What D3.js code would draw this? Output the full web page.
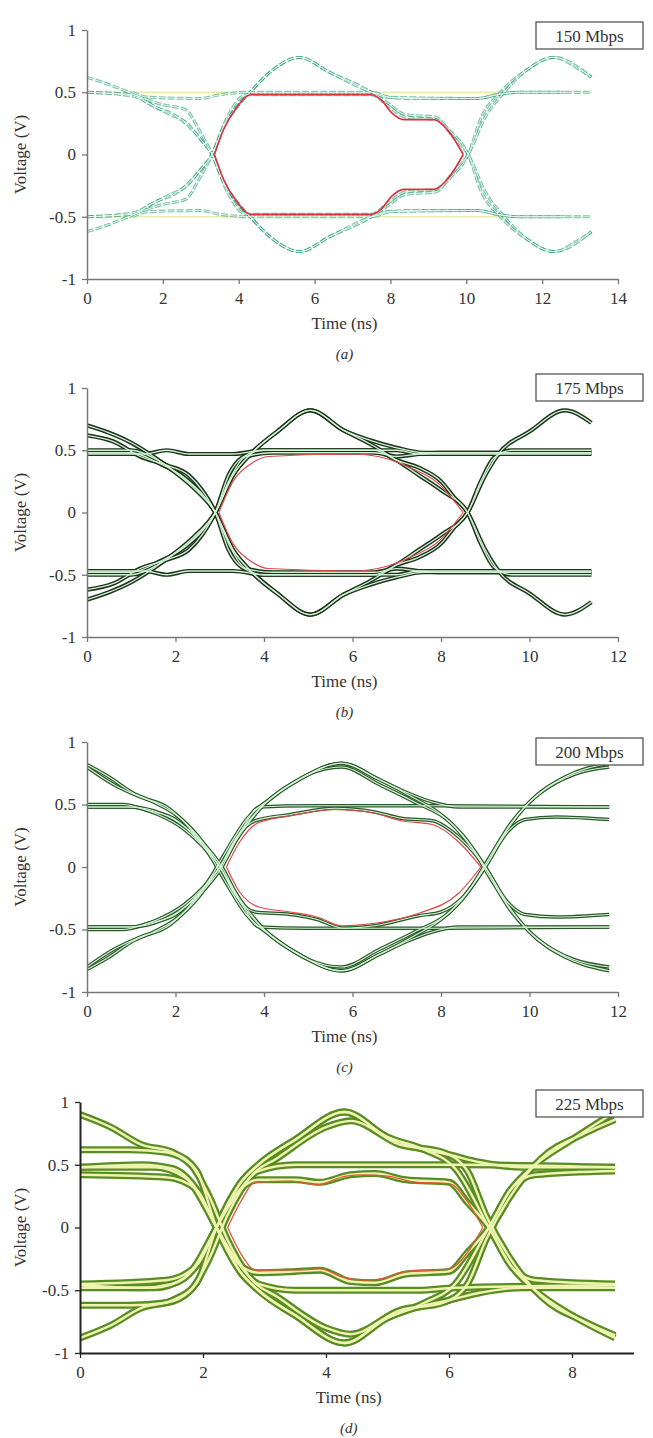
<!DOCTYPE html>
<html>
<head>
<meta charset="utf-8">
<script src="https://cdn.jsdelivr.net/npm/d3@7"></script>
<style>
  body { margin: 0; background: #fff; }
  svg text { font-family: "Liberation Serif", "Times New Roman", serif; fill: #333; }
</style>
</head>
<body>
<svg id="chart" width="653" height="1438"></svg>
<script>
/* global d3 */

// ---- data ----
const rates = ['150 Mbps', '175 Mbps', '200 Mbps', '225 Mbps'];
const captions = ['(a)', '(b)', '(c)', '(d)'];
const xMax = [14, 12, 12, 9];
const xTicksA = [0, 2, 4, 6, 8, 10, 12, 14];
const xTicksB = [0, 2, 4, 6, 8, 10, 12];
const xTicksC = [0, 2, 4, 6, 8, 10, 12];
const xTicksD = [0, 2, 4, 6, 8];
const yTicks = [-1, -0.5, 0, 0.5, 1];

// panel (a) 150 Mbps
const levelsA = [
  [[0, 0.5], [13.3, 0.5]],
  [[0, -0.5], [13.3, -0.5]]
];
const tracesA = [
  [[0, 0.62], [0.6, 0.56], [1.1, 0.5], [1.5, 0.45], [2.0, 0.4], [2.6, 0.36], [2.95, 0.2], [3.3, 0], [3.6, -0.22], [4.0, -0.4], [4.3, -0.5], [4.9, -0.68], [5.6, -0.78], [6.4, -0.66], [7.5, -0.5], [7.9, -0.46], [8.5, -0.45], [10.3, -0.45], [10.8, -0.48], [11.4, -0.5], [13.3, -0.5]],
  [[0, -0.62], [0.6, -0.56], [1.1, -0.5], [1.5, -0.45], [2.0, -0.4], [2.6, -0.36], [2.95, -0.2], [3.3, 0], [3.6, 0.22], [4.0, 0.4], [4.3, 0.5], [4.9, 0.68], [5.6, 0.78], [6.4, 0.66], [7.5, 0.5], [7.9, 0.46], [8.5, 0.45], [10.3, 0.45], [10.8, 0.48], [11.4, 0.5], [13.3, 0.5]],
  [[0, 0.5], [1.2, 0.48], [1.7, 0.4], [2.2, 0.32], [2.6, 0.26], [3.0, 0.12], [3.3, 0], [3.7, -0.3], [4.2, -0.48], [7.5, -0.48], [7.9, -0.4], [8.4, -0.3], [9.2, -0.28], [9.6, -0.18], [10.05, 0], [10.4, 0.3], [10.9, 0.5], [11.6, 0.68], [12.3, 0.78], [13.0, 0.68], [13.3, 0.62]],
  [[0, -0.5], [1.2, -0.48], [1.7, -0.4], [2.2, -0.32], [2.6, -0.26], [3.0, -0.12], [3.3, 0], [3.7, 0.3], [4.2, 0.48], [7.5, 0.48], [7.9, 0.4], [8.4, 0.3], [9.2, 0.28], [9.6, 0.18], [10.05, 0], [10.4, -0.3], [10.9, -0.5], [11.6, -0.68], [12.3, -0.78], [13.0, -0.68], [13.3, -0.62]],
  [[0, -0.5], [1.2, -0.47], [1.8, -0.38], [2.4, -0.3], [3.0, -0.12], [3.3, 0], [3.6, 0.22], [4.0, 0.4], [4.3, 0.5], [4.9, 0.68], [5.6, 0.78], [6.4, 0.66], [7.5, 0.5], [7.9, 0.42], [8.4, 0.32], [9.2, 0.3], [9.6, 0.16], [10.05, 0], [10.5, -0.3], [11, -0.5], [11.6, -0.68], [12.3, -0.78], [13.3, -0.62]],
  [[0, 0.5], [1.2, 0.47], [1.8, 0.38], [2.4, 0.3], [3.0, 0.12], [3.3, 0], [3.6, -0.22], [4.0, -0.4], [4.3, -0.5], [4.9, -0.68], [5.6, -0.78], [6.4, -0.66], [7.5, -0.5], [7.9, -0.42], [8.4, -0.32], [9.2, -0.3], [9.6, -0.16], [10.05, 0], [10.5, 0.3], [11, 0.5], [11.6, 0.68], [12.3, 0.78], [13.3, 0.62]],
  [[1.2, 0.5], [1.6, 0.46], [3.0, 0.45], [3.5, 0.48], [4.3, 0.5], [7.5, 0.5], [8.0, 0.46], [10.3, 0.45], [10.8, 0.48], [11.4, 0.5], [12.6, 0.5]],
  [[1.2, -0.5], [1.6, -0.46], [3.0, -0.45], [3.5, -0.48], [4.3, -0.5], [7.5, -0.5], [8.0, -0.46], [10.3, -0.45], [10.8, -0.48], [11.4, -0.5], [12.6, -0.5]]
];
const maskA = [
  [[3.36, 0], [3.6, 0.2], [3.95, 0.38], [4.3, 0.48], [7.5, 0.48], [7.75, 0.44], [8.05, 0.33], [8.35, 0.28], [9.15, 0.28], [9.5, 0.2], [9.92, 0]],
  [[3.36, 0], [3.6, -0.2], [3.95, -0.38], [4.3, -0.48], [7.5, -0.48], [7.75, -0.44], [8.05, -0.33], [8.35, -0.28], [9.15, -0.28], [9.5, -0.2], [9.92, 0]]
];

// panel (b) 175 Mbps
const levelsB = [];
const tracesB = [
  [[0, 0.47], [1.3, 0.47], [1.8, 0.5], [2.3, 0.47], [3.3, 0.47], [4.0, 0.5], [7.0, 0.5], [7.5, 0.47], [11.4, 0.47]],
  [[0, -0.47], [1.3, -0.47], [1.8, -0.5], [2.3, -0.47], [3.3, -0.47], [4.0, -0.5], [7.0, -0.5], [7.5, -0.47], [11.4, -0.47]],
  [[0, 0.7], [0.5, 0.64], [1.0, 0.56], [1.5, 0.45], [2.0, 0.32], [2.4, 0.2], [2.9, 0], [3.3, -0.3], [3.7, -0.47], [4.3, -0.65], [5.05, -0.82], [5.8, -0.66], [6.4, -0.55], [7.0, -0.42], [7.5, -0.3], [8.0, -0.18], [8.6, 0], [9.0, 0.3], [9.3, 0.47], [10.0, 0.65], [10.8, 0.82], [11.4, 0.72]],
  [[0, -0.7], [0.5, -0.64], [1.0, -0.56], [1.5, -0.45], [2.0, -0.32], [2.4, -0.2], [2.9, 0], [3.3, 0.3], [3.7, 0.47], [4.3, 0.65], [5.05, 0.82], [5.8, 0.66], [6.4, 0.55], [7.0, 0.42], [7.5, 0.3], [8.0, 0.18], [8.6, 0], [9.0, -0.3], [9.3, -0.47], [10.0, -0.65], [10.8, -0.82], [11.4, -0.72]],
  [[0, 0.5], [1.0, 0.5], [1.6, 0.42], [2.1, 0.3], [2.5, 0.18], [2.9, 0], [3.2, -0.25], [3.6, -0.45], [4.2, -0.48], [6.5, -0.48], [7.0, -0.45], [7.5, -0.47], [8.0, -0.48], [11.4, -0.48]],
  [[0, -0.5], [1.0, -0.5], [1.6, -0.42], [2.1, -0.3], [2.5, -0.18], [2.9, 0], [3.2, 0.25], [3.6, 0.45], [4.2, 0.48], [6.5, 0.48], [7.0, 0.45], [7.5, 0.47], [8.0, 0.48], [11.4, 0.48]],
  [[0, -0.48], [1.0, -0.48], [1.6, -0.4], [2.2, -0.28], [2.9, 0], [3.3, 0.3], [3.7, 0.47], [4.3, 0.65], [5.05, 0.82], [5.8, 0.66], [6.4, 0.58], [7.0, 0.52], [7.6, 0.48], [11.4, 0.48]],
  [[0, 0.48], [1.0, 0.48], [1.6, 0.4], [2.2, 0.28], [2.9, 0], [3.3, -0.3], [3.7, -0.47], [4.3, -0.65], [5.05, -0.82], [5.8, -0.66], [6.4, -0.58], [7.0, -0.52], [7.6, -0.48], [11.4, -0.48]],
  [[0, 0.62], [0.6, 0.57], [1.2, 0.45], [1.8, 0.38], [2.3, 0.3], [2.6, 0.18], [2.9, 0], [3.2, -0.3], [3.5, -0.44], [4.0, -0.5], [6.5, -0.5], [7.0, -0.42], [7.5, -0.36], [8.0, -0.25], [8.3, -0.12], [8.6, 0], [8.9, 0.25], [9.2, 0.44], [9.6, 0.5], [11.4, 0.5]],
  [[0, -0.62], [0.6, -0.57], [1.2, -0.45], [1.8, -0.38], [2.3, -0.3], [2.6, -0.18], [2.9, 0], [3.2, 0.3], [3.5, 0.44], [4.0, 0.5], [6.5, 0.5], [7.0, 0.42], [7.5, 0.36], [8.0, 0.25], [8.3, 0.12], [8.6, 0], [8.9, -0.25], [9.2, -0.44], [9.6, -0.5], [11.4, -0.5]]
];
const maskB = [
  [[2.98, 0], [3.3, 0.25], [3.7, 0.39], [4.1, 0.45], [6.0, 0.47], [6.8, 0.43], [7.3, 0.36], [7.95, 0.23], [8.5, 0]],
  [[2.98, 0], [3.3, -0.25], [3.7, -0.39], [4.1, -0.45], [6.0, -0.47], [6.8, -0.43], [7.3, -0.36], [7.95, -0.23], [8.5, 0]]
];

// panel (c) 200 Mbps
const levelsC = [];
const tracesC = [
  [[0, 0.82], [0.5, 0.72], [1.0, 0.6], [1.5, 0.52], [2.0, 0.42], [2.5, 0.25], [3.0, 0], [3.5, -0.28], [4.0, -0.5], [4.8, -0.7], [5.75, -0.83], [6.6, -0.7], [7.4, -0.55], [8.0, -0.42], [8.5, -0.25], [9.0, 0], [9.5, 0.3], [10.0, 0.52], [10.8, 0.72], [11.8, 0.83]],
  [[0, -0.82], [0.5, -0.72], [1.0, -0.6], [1.5, -0.52], [2.0, -0.42], [2.5, -0.25], [3.0, 0], [3.5, 0.28], [4.0, 0.5], [4.8, 0.7], [5.75, 0.83], [6.6, 0.7], [7.4, 0.55], [8.0, 0.42], [8.5, 0.25], [9.0, 0], [9.5, -0.3], [10.0, -0.52], [10.8, -0.72], [11.8, -0.83]],
  [[0, 0.5], [0.8, 0.5], [1.4, 0.45], [2.0, 0.38], [2.5, 0.22], [3.0, 0], [3.4, -0.25], [3.8, -0.36], [4.6, -0.38], [5.2, -0.42], [5.8, -0.49], [6.5, -0.47], [7.5, -0.39], [8.0, -0.36], [8.5, -0.24], [9.0, 0], [9.5, 0.28], [9.9, 0.38], [10.6, 0.4], [11.8, 0.38]],
  [[0, -0.5], [0.8, -0.5], [1.4, -0.45], [2.0, -0.38], [2.5, -0.22], [3.0, 0], [3.4, 0.25], [3.8, 0.37], [4.6, 0.42], [5.6, 0.47], [6.5, 0.44], [7.1, 0.39], [7.8, 0.37], [8.4, 0.24], [9.0, 0], [9.5, -0.28], [9.9, -0.38], [10.6, -0.4], [11.8, -0.38]],
  [[0, 0.48], [1.0, 0.48], [1.5, 0.45], [2.1, 0.35], [2.6, 0.2], [3.05, 0], [3.5, -0.3], [3.9, -0.48], [5, -0.49], [8.0, -0.49], [11.8, -0.48]],
  [[0, -0.48], [1.0, -0.48], [1.5, -0.45], [2.1, -0.35], [2.6, -0.2], [3.05, 0], [3.5, 0.3], [3.9, 0.48], [5, 0.49], [8.0, 0.49], [11.8, 0.48]],
  [[0, -0.48], [1.0, -0.48], [1.6, -0.42], [2.2, -0.3], [3.0, 0], [3.5, 0.3], [4.0, 0.5], [4.8, 0.7], [5.75, 0.83], [6.6, 0.7], [7.2, 0.6], [7.8, 0.52], [8.4, 0.48], [11.8, 0.48]],
  [[0, 0.48], [1.0, 0.48], [1.6, 0.42], [2.2, 0.3], [3.0, 0], [3.5, -0.3], [4.0, -0.5], [4.8, -0.7], [5.75, -0.83], [6.6, -0.7], [7.2, -0.6], [7.8, -0.52], [8.4, -0.48], [11.8, -0.48]],
  [[0, 0.8], [0.6, 0.66], [1.2, 0.56], [1.8, 0.48], [2.3, 0.32], [2.8, 0.08], [3.1, -0.1], [3.6, -0.38], [4.2, -0.56], [5.0, -0.74], [5.75, -0.8], [6.6, -0.66], [7.4, -0.52], [8.2, -0.36], [8.7, -0.15], [9.1, 0.08], [9.6, 0.36], [10.2, 0.58], [11.0, 0.74], [11.8, 0.8]],
  [[0, -0.8], [0.6, -0.66], [1.2, -0.56], [1.8, -0.48], [2.3, -0.32], [2.8, -0.08], [3.1, 0.1], [3.6, 0.38], [4.2, 0.56], [5.0, 0.74], [5.75, 0.8], [6.6, 0.66], [7.4, 0.52], [8.2, 0.36], [8.7, 0.15], [9.1, -0.08], [9.6, -0.36], [10.2, -0.58], [11.0, -0.74], [11.8, -0.8]]
];
const maskC = [
  [[3.15, 0], [3.45, 0.2], [3.85, 0.35], [4.6, 0.41], [5.6, 0.46], [6.5, 0.43], [7.1, 0.37], [7.8, 0.34], [8.4, 0.2], [8.9, 0]],
  [[3.15, 0], [3.45, -0.2], [3.88, -0.32], [4.6, -0.36], [5.2, -0.4], [5.77, -0.47], [6.5, -0.45], [7.5, -0.37], [8.4, -0.21], [8.9, 0]]
];

// panel (d) 225 Mbps
const levelsD = [];
const tracesD = [
  [[0, 0.9], [0.5, 0.8], [1.0, 0.66], [1.5, 0.6], [1.9, 0.45], [2.22, 0], [2.6, -0.35], [2.9, -0.5], [3.5, -0.7], [4.3, -0.92], [5.0, -0.72], [5.6, -0.6], [6.1, -0.45], [6.65, 0], [7.0, 0.3], [7.4, 0.5], [8.0, 0.7], [8.7, 0.92]],
  [[0, -0.88], [0.5, -0.78], [1.0, -0.64], [1.5, -0.58], [1.9, -0.44], [2.22, 0], [2.6, 0.35], [2.9, 0.5], [3.5, 0.7], [4.3, 0.92], [5.0, 0.72], [5.6, 0.62], [6.1, 0.47], [6.65, 0], [7.0, -0.3], [7.4, -0.5], [8.0, -0.7], [8.7, -0.88]],
  [[0, 0.48], [1.0, 0.5], [1.5, 0.47], [1.9, 0.3], [2.22, 0], [2.6, -0.3], [2.9, -0.45], [3.5, -0.5], [5.5, -0.5], [6.1, -0.48], [8.7, -0.46]],
  [[0, -0.46], [1.0, -0.48], [1.5, -0.45], [1.9, -0.3], [2.22, 0], [2.6, 0.3], [2.9, 0.45], [3.5, 0.5], [5.5, 0.5], [6.1, 0.5], [8.7, 0.48]],
  [[0, -0.48], [1.2, -0.48], [1.7, -0.4], [2.22, 0], [2.6, 0.35], [2.9, 0.5], [3.5, 0.7], [4.3, 0.92], [5.0, 0.72], [5.6, 0.62], [6.0, 0.58], [6.5, 0.52], [7.2, 0.48], [8.7, 0.48]],
  [[0, 0.48], [1.2, 0.48], [1.7, 0.4], [2.22, 0], [2.6, -0.35], [2.9, -0.5], [3.5, -0.7], [4.3, -0.92], [5.0, -0.72], [5.6, -0.62], [6.0, -0.58], [6.5, -0.52], [7.2, -0.48], [8.7, -0.48]],
  [[0, -0.45], [1.4, -0.42], [1.9, -0.3], [2.22, 0], [2.6, 0.3], [2.9, 0.38], [3.5, 0.38], [3.9, 0.36], [4.4, 0.42], [4.8, 0.43], [5.3, 0.38], [6.0, 0.36], [6.3, 0.2], [6.65, 0], [7.0, -0.3], [7.4, -0.42], [8.7, -0.45]],
  [[0, 0.42], [1.4, 0.4], [1.9, 0.3], [2.22, 0], [2.6, -0.3], [2.9, -0.36], [3.5, -0.35], [3.9, -0.34], [4.4, -0.43], [4.8, -0.44], [5.3, -0.37], [6.0, -0.35], [6.3, -0.2], [6.65, 0], [7.0, 0.3], [7.4, 0.42], [8.7, 0.45]],
  [[0, 0.62], [0.8, 0.62], [1.4, 0.6], [1.8, 0.5], [2.1, 0.25], [2.4, -0.1], [2.8, -0.42], [3.2, -0.55], [4.0, -0.8], [4.4, -0.85], [5.2, -0.66], [5.9, -0.6], [6.3, -0.45], [6.6, -0.1], [7.0, 0.25], [7.5, 0.55], [8.2, 0.75], [8.7, 0.86]],
  [[0, -0.62], [0.8, -0.62], [1.4, -0.6], [1.8, -0.5], [2.1, -0.25], [2.4, 0.1], [2.8, 0.42], [3.2, 0.55], [4.0, 0.8], [4.4, 0.85], [5.2, 0.66], [5.9, 0.6], [6.3, 0.45], [6.6, 0.1], [7.0, -0.25], [7.5, -0.55], [8.2, -0.75], [8.7, -0.86]]
];
const maskD = [
  [[2.4, 0], [2.63, 0.22], [2.84, 0.36], [3.44, 0.37], [3.85, 0.34], [4.32, 0.41], [4.6, 0.42], [5.0, 0.41], [5.47, 0.36], [6.0, 0.35], [6.28, 0.22], [6.55, 0]],
  [[2.4, 0], [2.63, -0.22], [2.84, -0.34], [3.5, -0.34], [3.9, -0.33], [4.3, -0.4], [4.6, -0.42], [4.9, -0.41], [5.3, -0.35], [6.0, -0.33], [6.3, -0.2], [6.55, 0]]
];

const xTicks = [xTicksA, xTicksB, xTicksC, xTicksD];
const levels = [levelsA, levelsB, levelsC, levelsD];
const traces = [tracesA, tracesB, tracesC, tracesD];
const masks = [maskA, maskB, maskC, maskD];

// ---- layout and look ----
const layout = [
  {left: 87, right: 618, top: 30, bottom: 279, boxY: 22},
  {left: 87, right: 618, top: 388, bottom: 637, boxY: 374},
  {left: 87, right: 618, top: 742, bottom: 992, boxY: 738},
  {left: 80, right: 633.5, top: 1102, bottom: 1353, boxY: 1090}
];
const looks = [
  {outer: 'rgba(40,150,110,0.6)', outerW: 3, inner: '#defaf0', innerW: 1, dash: '7 2', axis: '#777', axisW: 1.5, mask: '#e03040', maskW: 1.6},
  {outer: '#1b331b', outerW: 4.2, inner: '#d2f0d2', innerW: 1.3, dash: null, axis: '#777', axisW: 1.5, mask: '#e04848', maskW: 1.2},
  {outer: '#285828', outerW: 3.5, inner: '#d6f4d6', innerW: 1.2, dash: null, axis: '#777', axisW: 1.5, mask: '#e04848', maskW: 1.2},
  {outer: '#5a8c24', outerW: 7, inner: '#eef3b0', innerW: 2.4, dash: null, axis: '#222', axisW: 2, mask: '#e05a38', maskW: 1.3}
];

const svg = d3.select('#chart');

rates.forEach((rate, i) => {
  const L = layout[i];
  const look = looks[i];
  const x = d3.scaleLinear().domain([0, xMax[i]]).range([L.left, L.right]);
  const y = d3.scaleLinear().domain([-1, 1]).range([L.bottom, L.top]);
  const line = d3.line().x(d => x(d[0])).y(d => y(d[1])).curve(d3.curveMonotoneX);

  const g = svg.append('g');
  const clipId = 'clip' + i;
  g.append('clipPath').attr('id', clipId)
    .append('rect')
    .attr('x', L.left).attr('y', L.top - 4)
    .attr('width', L.right - L.left).attr('height', L.bottom - L.top + 8);

  const plot = g.append('g').attr('clip-path', `url(#${clipId})`);

  plot.selectAll('.level').data(levels[i]).enter()
    .append('path').attr('class', 'level')
    .attr('d', line).attr('fill', 'none')
    .attr('stroke', '#ecebab').attr('stroke-width', 1.6);

  plot.selectAll('.outer').data(traces[i]).enter()
    .append('path').attr('class', 'outer')
    .attr('d', line).attr('fill', 'none')
    .attr('stroke', look.outer).attr('stroke-width', look.outerW)
    .attr('stroke-dasharray', look.dash);

  plot.selectAll('.inner').data(traces[i]).enter()
    .append('path').attr('class', 'inner')
    .attr('d', line).attr('fill', 'none')
    .attr('stroke', look.inner).attr('stroke-width', look.innerW);

  plot.selectAll('.mask').data(masks[i]).enter()
    .append('path').attr('class', 'mask')
    .attr('d', line).attr('fill', 'none')
    .attr('stroke', look.mask).attr('stroke-width', look.maskW);

  // axes
  const xAxis = g.append('g')
    .attr('transform', `translate(0,${L.bottom})`)
    .call(d3.axisBottom(x).tickValues(xTicks[i]).tickSize(5).tickSizeOuter(0).tickPadding(8));
  const yAxis = g.append('g')
    .attr('transform', `translate(${L.left},0)`)
    .call(d3.axisLeft(y).tickValues(yTicks).tickSize(5).tickSizeOuter(0).tickPadding(6)
      .tickFormat(d => String(d)));

  [xAxis, yAxis].forEach(ax => {
    ax.attr('font-family', null);
    ax.select('.domain').attr('stroke', look.axis).attr('stroke-width', look.axisW);
    ax.selectAll('.tick line').attr('stroke', look.axis).attr('stroke-width', 1.3);
    ax.selectAll('.tick text').attr('font-size', 17).attr('fill', '#333');
  });

  // rate box
  const box = g.append('g').attr('transform', `translate(536,${L.boxY})`);
  box.append('rect').attr('width', 107).attr('height', 27)
    .attr('fill', '#fff').attr('stroke', '#555').attr('stroke-width', 1.3);
  box.append('text').attr('x', 53.5).attr('y', 19.5)
    .attr('text-anchor', 'middle').attr('font-size', 17).text(rate);

  // titles
  g.append('text')
    .attr('x', (L.left + L.right) / 2 - 8).attr('y', L.bottom + 50)
    .attr('text-anchor', 'middle').attr('font-size', 17).attr('fill', '#222').text('Time (ns)');
  g.append('text')
    .attr('transform', `translate(26,${y(0)}) rotate(-90)`)
    .attr('text-anchor', 'middle').attr('font-size', 17).attr('fill', '#222')
    .text('Voltage (V)');
  g.append('text')
    .attr('x', (L.left + L.right) / 2 - 8).attr('y', L.bottom + 80)
    .attr('text-anchor', 'middle').attr('font-size', 15).attr('font-style', 'italic')
    .text(captions[i]);
});
</script>
</body>
</html>
